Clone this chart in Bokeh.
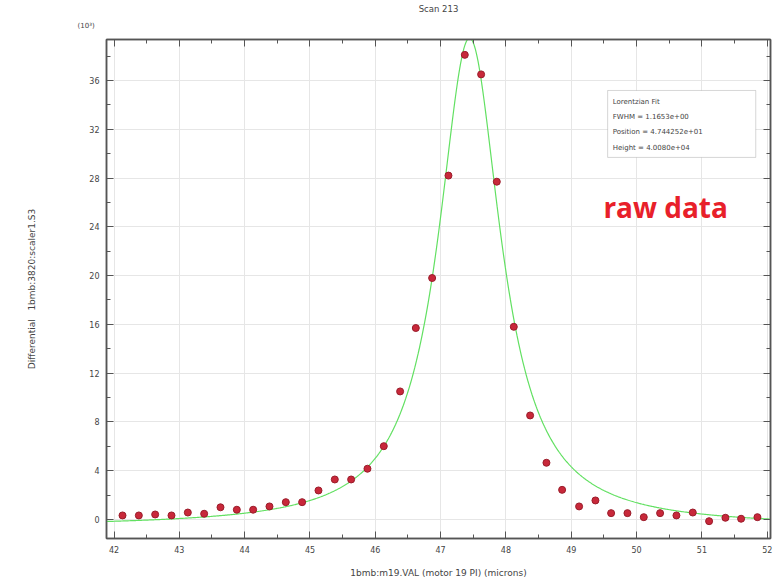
import numpy as np
from bokeh.plotting import figure
from bokeh.models import Range1d, LinearAxis, Label, BoxAnnotation, SingleIntervalTicker, Title
from bokeh.embed import file_html
from bokeh.resources import INLINE

# ---- data (counts in units of 10^3) ----
pos_x = [42.13, 42.38, 42.63, 42.88, 43.13, 43.38, 43.63, 43.88, 44.13, 44.38,
         44.63, 44.88, 45.13, 45.38, 45.63, 45.88, 46.13, 46.38, 46.62, 46.87,
         47.12, 47.37, 47.62, 47.86, 48.12, 48.37, 48.62, 48.86, 49.12, 49.37,
         49.61, 49.86, 50.11, 50.36, 50.61, 50.86, 51.11, 51.36, 51.60, 51.85]
counts = [0.33, 0.33, 0.41, 0.33, 0.57, 0.47, 1.00, 0.80, 0.80, 1.07,
          1.42, 1.42, 2.38, 3.28, 3.28, 4.16, 6.01, 10.5, 15.7, 19.8,
          28.2, 38.1, 36.5, 27.7, 15.8, 8.53, 4.65, 2.43, 1.07, 1.56,
          0.52, 0.52, 0.19, 0.52, 0.33, 0.57, -0.14, 0.14, 0.06, 0.19]

# Lorentzian fit parameters shown in the info box
fit_fwhm = 1.1653
fit_position = 47.44252
fit_height = 40.080      # 4.0080e+04 in units of 10^3
fit_background = -0.6    # baseline offset of the drawn fit curve

fit_x = np.linspace(41.885, 52.05, 800)
hw2 = (fit_fwhm / 2.0) ** 2
fit_y = fit_height * hw2 / ((fit_x - fit_position) ** 2 + hw2) + fit_background

info_lines = ["Lorentzian Fit", "FWHM = 1.1653e+00",
              "Position = 4.744252e+01", "Height = 4.0080e+04"]

FONT = "DejaVu Sans"
AXC = "#555555"
TXC = "#444444"
NB = "\u00a0"

p = figure(width=773, height=581, output_backend="svg", toolbar_location=None,
           x_range=Range1d(41.885, 52.05), y_range=Range1d(-1.56, 39.36),
           min_border_left=106, min_border_right=3, min_border_top=39,
           min_border_bottom=43, title="Scan 213")

p.outline_line_color = AXC
p.outline_line_width = 1.5
p.background_fill_color = "white"
p.border_fill_color = "white"

xt = SingleIntervalTicker(interval=1, num_minor_ticks=2)
yt = SingleIntervalTicker(interval=4, num_minor_ticks=2)
p.xaxis.ticker = xt
p.yaxis.ticker = yt
p.xgrid.ticker = xt
p.ygrid.ticker = yt
p.xgrid.grid_line_color = "#e6e6e6"
p.ygrid.grid_line_color = "#e6e6e6"

for ax in (p.xaxis[0], p.yaxis[0]):
    ax.axis_line_color = AXC
    ax.axis_line_width = 1.5
    ax.major_tick_in = 7
    ax.major_tick_out = 0
    ax.minor_tick_in = 4
    ax.minor_tick_out = 0
    ax.major_tick_line_color = AXC
    ax.minor_tick_line_color = AXC
    ax.major_label_text_font = FONT
    ax.major_label_text_font_size = "8px"
    ax.major_label_text_color = TXC
    ax.axis_label_text_font = FONT
    ax.axis_label_text_font_size = "9px"
    ax.axis_label_text_font_style = "normal"
    ax.axis_label_text_color = TXC

p.xaxis.major_label_standoff = 7
p.xaxis.axis_label = "1bmb:m19.VAL (motor 19 PI) (microns)"
p.xaxis.axis_label_standoff = 12
p.yaxis.major_label_standoff = 7
p.yaxis.axis_label = "Differential" + NB * 3 + "1bmb:3820:scaler1.S3"
p.yaxis.axis_label_standoff = 49

# mirrored axes (ticks only, no labels) on top and right
top_ax = LinearAxis(ticker=xt)
right_ax = LinearAxis(ticker=yt)
for ax in (top_ax, right_ax):
    ax.axis_line_color = AXC
    ax.axis_line_width = 1.5
    ax.major_tick_in = 7
    ax.major_tick_out = 0
    ax.minor_tick_in = 4
    ax.minor_tick_out = 0
    ax.major_tick_line_color = AXC
    ax.minor_tick_line_color = AXC
    ax.major_label_text_font_size = "0px"
    ax.major_label_text_color = None
    ax.major_label_standoff = 0
p.add_layout(top_ax, "above")
p.add_layout(right_ax, "right")

# exponent marker above the y axis
p.add_layout(Title(text="(10³)", align="left", offset=-29, standoff=19,
                   text_font=FONT, text_font_size="7px",
                   text_font_style="normal", text_color=TXC), "above")

p.title.align = "center"
p.title.text_font = FONT
p.title.text_font_size = "8.5px"
p.title.text_font_style = "normal"
p.title.text_color = TXC
p.title.standoff = -7

# fit curve and raw data
p.line(fit_x, fit_y, line_color="#62e062", line_width=1.2)
p.scatter(pos_x, counts, marker="circle", size=7,
          fill_color="#c8283a", line_color="#9a1c2a", line_width=1)

# info box
p.add_layout(BoxAnnotation(left=49.557, right=51.824, bottom=29.69, top=35.18,
                           fill_color="white", fill_alpha=1.0,
                           line_color="#777777", line_width=1))
info_y = [34.2, 32.97, 31.74, 30.5]
for txt, yy in zip(info_lines, info_y):
    p.add_layout(Label(x=49.634, y=yy, text=txt, text_font=FONT,
                       text_font_size="7px", text_color=TXC,
                       text_align="left", text_baseline="middle"))

# annotation
p.add_layout(Label(x=50.445, y=25.59, text="raw data", text_font="Open Sans",
                   text_font_size="28px", text_font_style="bold",
                   text_color="#e8202a", text_align="center",
                   text_baseline="middle"))

open("out.html", "w").write(file_html(p, INLINE))
